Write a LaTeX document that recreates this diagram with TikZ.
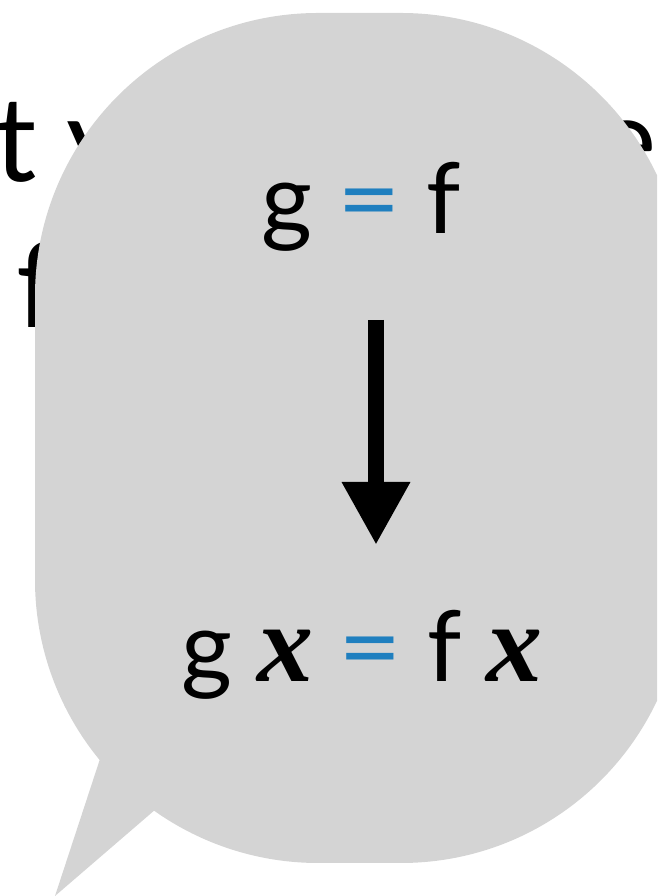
\documentclass[tikz,border=0pt]{standalone}
\usepackage{fontspec}
\setmainfont{Lato}
\newfontfamily\varfont{Liberation Serif}
\usepackage{xcolor}
\usepackage{tikz}
\usetikzlibrary{arrows.meta, calc}
\definecolor{bubblegray}{RGB}{212,212,212}
\definecolor{eqblue}{RGB}{31,127,191}
\newcommand{\bigvar}[1]{{\fontsize{112}{120}\varfont\bfseries\itshape #1}}
\newcommand{\blueeq}{\textcolor{eqblue}{\scalebox{1.12}[1]{=}}}

\begin{document}
\begin{tikzpicture}[
    x=1pt, y=1pt,
    bgtext/.style={anchor=base west, inner sep=0pt, font=\fontsize{118}{140}\selectfont},
    eqtext/.style={anchor=base, inner sep=0pt, font=\fontsize{98}{110}\selectfont},
    arr/.style={-{Triangle[width=64pt, length=63pt]}, line width=16pt},
]
    \clip (0,0) rectangle (657,896);

    % ====== Text behind the bubble ======
    \node[bgtext] (lineone) at (-6,714) {t y};
    \node[bgtext] (lineend) at (594,714) {e};
    \node[bgtext] (linetwo) at (16,568) {f};

    % ====== Speech bubble ======
    \fill[bubblegray]
        (35,600) -- (35,316)
        arc[start angle=180, end angle=219.5, radius=283pt]
        -- (55,0) -- ($(318,316)+(234.6:283)$)
        arc[start angle=234.6, end angle=270, radius=283pt]
        -- (401,33) arc[start angle=270, end angle=360, radius=283pt]
        -- (684,600) arc[start angle=0, end angle=90, radius=283pt]
        -- (318,883) arc[start angle=90, end angle=180, radius=283pt]
        -- cycle;

    % ====== Equations ======
    \node[eqtext] (eqtop) at (361,662) {g \blueeq{} f};
    \node[eqtext] (eqbot) at (362,214)
        {g \bigvar{x} \blueeq{} f \bigvar{x}};

    % ====== Arrow ======
    \coordinate (arrstart) at (376,576);
    \coordinate (arrend) at (376,351);
    \draw[arr] (arrstart) -- (arrend);
\end{tikzpicture}
\end{document}
